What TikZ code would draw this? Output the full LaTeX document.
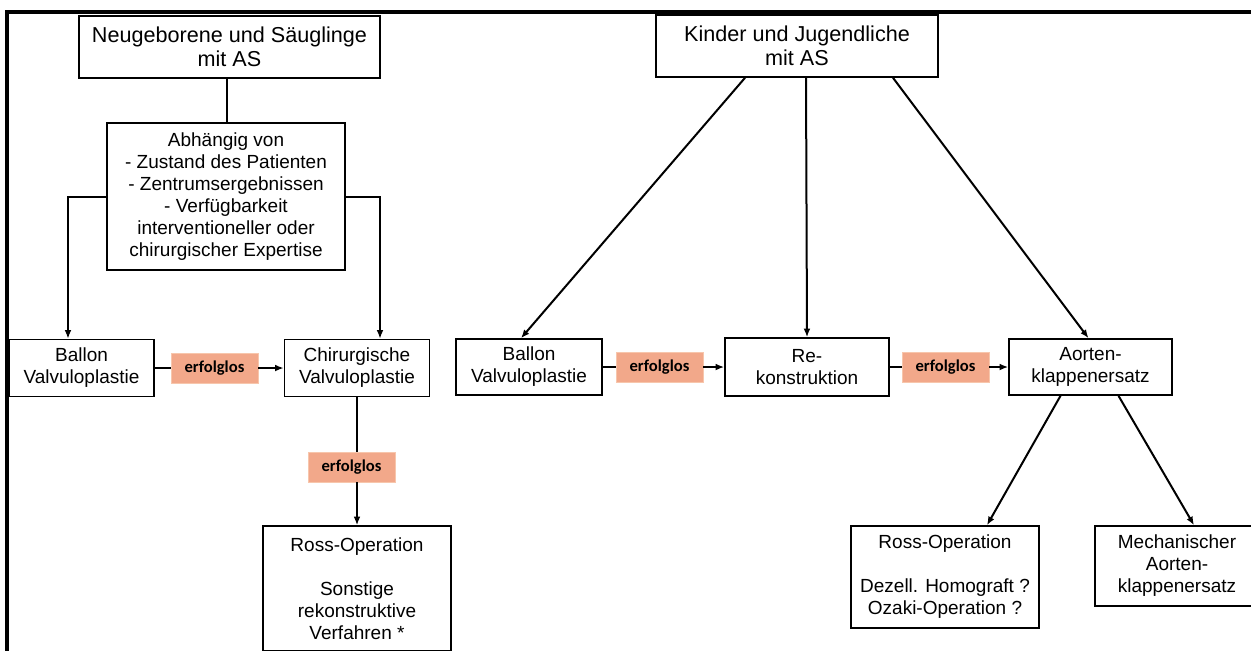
\documentclass[tikz,border=0pt]{standalone}
\usepackage{fontspec}
\setmainfont{Liberation Sans}
\newfontfamily\calibrifont{Carlito}
\usetikzlibrary{arrows.meta}

\definecolor{failfill}{RGB}{242,168,138}
\definecolor{failline}{RGB}{247,198,172}

\begin{document}
\begin{tikzpicture}[x=0.5pt, y=-0.5pt, >={Latex[length=1.5mm,width=1.2mm]},
	every node/.style={font=\fontsize{9.5}{11}\selectfont, align=center, inner sep=0pt},
	box/.style={draw, line width=0.8pt},
	head/.style={box, font=\fontsize{10.8}{12}\selectfont},
	fail/.style={fill=failfill, draw=failline, line width=0.4pt, minimum width=43.5pt, minimum height=15pt, font=\calibrifont\bfseries\fontsize{8.3}{9}\selectfont},
	link/.style={line width=1pt}]
	\useasboundingbox (0,0) rectangle (1251,650);
	\clip (0,0) rectangle (1251,650);
	\draw[line width=1.6pt] (7,670) -- (7,12) -- (1270,12);

	\node[head, minimum width=150.5pt, minimum height=31pt] (nb) at (229.5,47) {Neugeborene und Säuglinge\\mit AS};
	\node[box, minimum width=119pt, minimum height=73.5pt] (abh) at (226,196.5) {Abhängig von\\- Zustand des Patienten\\- Zentrumsergebnissen\\- Verfügbarkeit\\interventioneller oder\\chirurgischer Expertise};
	\node[box, minimum width=72.5pt, minimum height=28.5pt] (balL) at (81.5,368) {Ballon\\Valvuloplastie};
	\node[fail] (failL1) at (214.5,368) {erfolglos};
	\node[box, minimum width=72.5pt, minimum height=28.5pt] (chir) at (357,368) {Chirurgische\\Valvuloplastie};
	\node[fail] (failL2) at (351.5,467) {erfolglos};
	\node[box, minimum width=94pt, minimum height=62.5pt] (rossL) at (357,588.5) {Ross-Operation\\[11pt]Sonstige\\rekonstruktive\\Verfahren *};

	\node[head, minimum width=141pt, minimum height=31pt] (kj) at (797,46) {Kinder und Jugendliche\\mit AS};
	\node[box, minimum width=73pt, minimum height=28pt] (balR) at (529,367) {Ballon\\Valvuloplastie};
	\node[fail] (failR1) at (659.5,367) {erfolglos};
	\node[box, minimum width=82pt, minimum height=29pt] (rek) at (807,367) {Re-\\konstruktion};
	\node[fail] (failR2) at (945.5,367) {erfolglos};
	\node[box, minimum width=81.5pt, minimum height=28pt] (aort) at (1090.5,367) {Aorten-\\klappenersatz};
	\node[box, minimum width=94pt, minimum height=51pt] (rossR) at (945,577) {Ross-Operation\\[11pt]Dezell. Homograft ?\\Ozaki-Operation ?};
	\node[box, minimum width=82pt, minimum height=40pt] (mech) at (1177,566) {Mechanischer\\Aorten-\\klappenersatz};

	\draw[link] (nb.south -| 227,0) -- (abh.north -| 227,0);
	\draw[link, ->] (abh.west) -| ([xshift=-6.75pt]balL.north);
	\draw[link, ->] (abh.east) -| ([xshift=11.5pt]chir.north);
	\draw[link] (balL.east) -- (failL1.west);
	\draw[link, ->] (failL1.east) -- (chir.west);
	\draw[link] (chir.south) -- (chir.south |- failL2.north);
	\draw[link, ->] (failL2.south -| chir.south) -- (rossL.north);

	\draw[link, ->] ([xshift=-26pt]kj.south) -- ([xshift=-4pt]balR.north);
	\draw[link, ->] ([xshift=4.5pt]kj.south) -- (rek.north);
	\draw[link, ->] ([xshift=48pt]kj.south) -- ([xshift=-1pt]aort.north);
	\draw[link] (balR.east) -- (failR1.west);
	\draw[link, ->] (failR1.east) -- (rek.west);
	\draw[link] (rek.east) -- (failR2.west);
	\draw[link, ->] (failR2.east) -- (aort.west);
	\draw[link, ->] ([xshift=-15pt]aort.south) -- ([xshift=21pt]rossR.north);
	\draw[link, ->] ([xshift=14pt]aort.south) -- ([xshift=8.5pt]mech.north);
\end{tikzpicture}
\end{document}
